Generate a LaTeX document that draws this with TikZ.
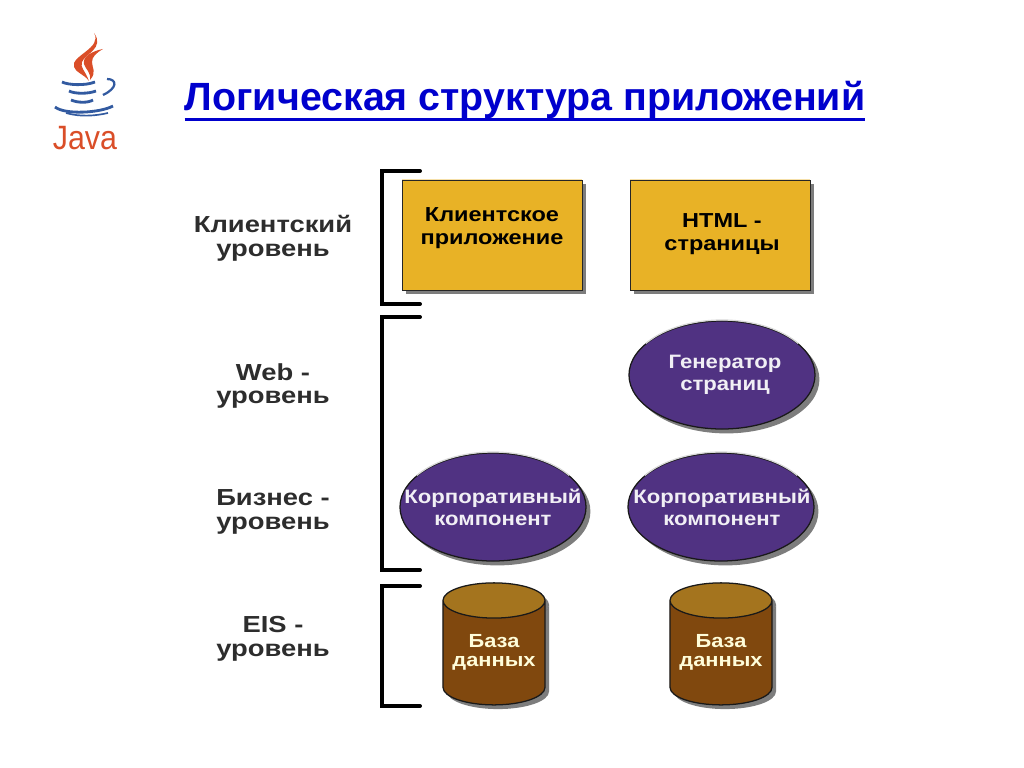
\documentclass[tikz,border=0pt]{standalone}
\usepackage{fontspec}
\setmainfont{Liberation Sans}
\usetikzlibrary{shapes.geometric,shadows}

\definecolor{titleblue}{RGB}{0,0,205}
\definecolor{boxgold}{RGB}{232,178,38}
\definecolor{ovalpurple}{RGB}{80,50,130}
\definecolor{dbbrown}{RGB}{128,72,14}
\definecolor{dbtop}{RGB}{164,116,30}
\definecolor{javared}{RGB}{218,78,40}
\definecolor{javablue}{RGB}{50,90,160}
\definecolor{labelgray}{RGB}{45,45,45}

\newcommand{\dbfiller}{\phantom{\rule{2cm}{1cm}}}

\tikzset{
    levellabel/.style = {align=center, inner sep=0pt, xscale=1.18, text=labelgray, font=\fontsize{16.5}{17}\selectfont\bfseries},
    bracket/.style = {line width=2.8pt, line cap=round},
    appbox/.style = {rectangle, draw=black!85, fill=boxgold, minimum width=4.5cm, minimum height=2.75cm,
        drop shadow={shadow xshift=1.1mm, shadow yshift=-1.1mm, fill=black!85, opacity=0.6}},
    boxtext/.style = {align=center, inner sep=0pt, xscale=1.16, font=\fontsize{14.4}{16.5}\selectfont\bfseries},
    oval/.style = {ellipse, draw=black!90, line width=0.9pt, fill=ovalpurple, minimum width=4.65cm, minimum height=2.7cm,
        inner sep=0pt, drop shadow={shadow xshift=1.1mm, shadow yshift=-1.1mm, fill=black!85, opacity=0.6}},
    ovaltext/.style = {align=center, inner sep=0pt, xscale=1.14, text=white!92!ovalpurple, font=\fontsize{13.8}{15.5}\selectfont\bfseries},
    database/.style = {cylinder, shape border rotate=90, aspect=0.44, draw=black!90, line width=0.9pt,
        cylinder uses custom fill, cylinder body fill=dbbrown, cylinder end fill=dbtop,
        minimum width=2.55cm, minimum height=3.05cm, inner sep=0pt},
    dbshadow/.style = {cylinder, shape border rotate=90, aspect=0.44, opacity=0.6,
        cylinder uses custom fill, cylinder body fill=black!85, cylinder end fill=black!85,
        minimum width=2.55cm, minimum height=3.05cm, inner sep=0pt},
    dbtext/.style = {align=center, inner sep=0pt, xscale=1.15, text=white!85!yellow, font=\fontsize{13.5}{13.5}\selectfont\bfseries},
    edgelight/.style = {white!70!gray, line width=0.9pt},
}

\begin{document}
\begin{tikzpicture}[x=0.025cm, y=-0.025cm]
    \useasboundingbox (0,0) rectangle (1024,768);

    % logo
    \fill[javared] (94,33) .. controls (103,48) and (70,56) .. (74,67) .. controls (76,73) and (84,74) .. (89,81)
        .. controls (85,70) and (80,68) .. (82,62) .. controls (85,54) and (105,48) .. (94,33);
    \fill[javared] (103,49) .. controls (92,51) and (82,57) .. (84,64) .. controls (86,70) and (91,72) .. (90,80)
        .. controls (97,72) and (92,68) .. (92,62) .. controls (92,57) and (96,53) .. (103,49);
    \draw[javablue, line width=2pt] (62,82) .. controls (68,85) and (85,86) .. (95,82);
    \draw[javablue, line width=1.6pt] (107,79) .. controls (117,79) and (118,88) .. (103,95);
    \draw[javablue, line width=2pt] (69,91) .. controls (75,94) and (88,94) .. (96,91);
    \draw[javablue, line width=2pt] (71,100) .. controls (78,103) and (88,103) .. (93,100);
    \draw[javablue, line width=2pt] (55,107) .. controls (65,115) and (100,113) .. (113,106);
    \draw[javablue, line width=1.2pt] (66,113) .. controls (80,117) and (95,116) .. (108,113);
    \node[text=javared, inner sep=0pt, xscale=0.9, font=\fontsize{24}{24}\selectfont] (java) at (85,138) {Java};

    % title
    \node[text=titleblue, inner sep=0pt, anchor=base, font=\fontsize{28}{30}\selectfont\bfseries] (title) at (525,111)
        {Логическая структура приложений};
    \draw[titleblue, line width=2pt] (title.south west) -- (title.south east);

    % level names
    \node[levellabel] (client) at (273,238) {Клиентский\\уровень};
    \node[levellabel] (web) at (273,386) {Web -\\уровень};
    \node[levellabel] (business) at (273,512) {Бизнес -\\уровень};
    \node[levellabel] (eis) at (273,639) {EIS -\\уровень};

    % brackets
    \draw[bracket] (420,171) -- (382,171) -- (382,304) -- (420,304);
    \draw[bracket] (420,317) -- (382,317) -- (382,570) -- (420,570);
    \draw[bracket] (420,586) -- (382,586) -- (382,706) -- (420,706);

    % client tier
    \node[appbox] (clientapp) at (492,235) {};
    \node[boxtext] (clientapptext) at (492,228) {Клиентское\\приложение};
    \node[appbox] (htmlpages) at (720,235) {};
    \node[boxtext] (htmlpagestext) at (722,234) {HTML -\\страницы};
    \foreach \boxname in {clientapp,htmlpages}
        \draw[white!60!boxgold, line width=1pt] (\boxname.north west) -- (\boxname.north east);

    % web and business tier
    \node[oval] (generator) at (722,375) {};
    \node[ovaltext] (generatortext) at (725,375) {Генератор\\страниц};
    \node[oval] (bean1) at (493,507) {};
    \node[ovaltext] (bean1text) at (493,507) {Корпоративный\\компонент};
    \node[oval] (bean2) at (721,507) {};
    \node[ovaltext] (bean2text) at (722,507) {Корпоративный\\компонент};
    \foreach \ovalname in {generator,bean1,bean2}
        \draw[edgelight] ([shift={(215:93 and 55)}]\ovalname.center) arc[start angle=215, end angle=325, x radius=93, y radius=55];

    % eis tier
    \node[dbshadow] (db1shadow) at (498,657) {\dbfiller};
    \node[database] (db1) at (494,653) {\dbfiller};
    \node[dbtext] (db1text) at (494,652) {База\\данных};
    \node[dbshadow] (db2shadow) at (725,657) {\dbfiller};
    \node[database] (db2) at (721,653) {\dbfiller};
    \node[dbtext] (db2text) at (721,652) {База\\данных};
\end{tikzpicture}
\end{document}
